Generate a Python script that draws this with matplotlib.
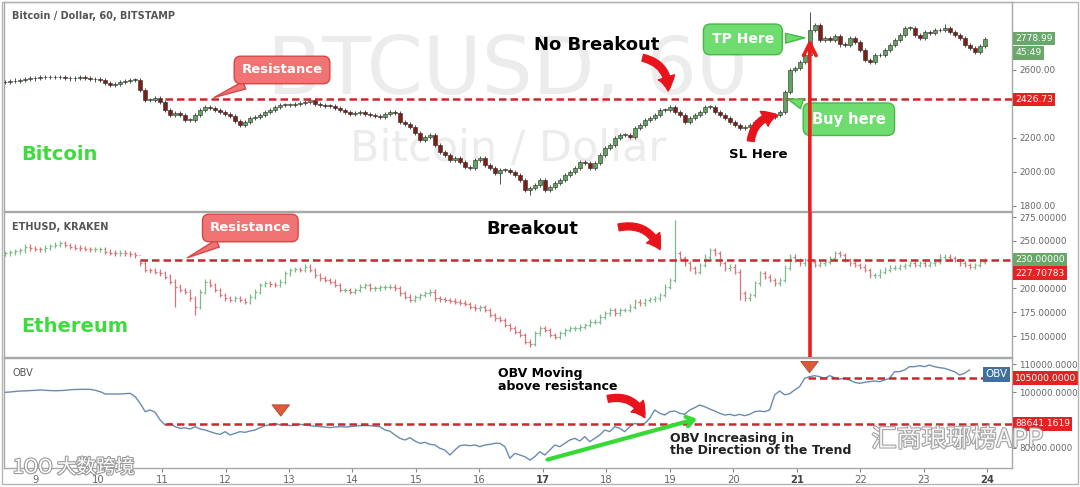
import numpy as np
import matplotlib
matplotlib.use("Agg")
import matplotlib.pyplot as plt
import matplotlib.patheffects as pe
from matplotlib.patches import FancyArrowPatch

btc_close = [2529, 2535, 2538, 2541, 2545, 2550, 2553, 2559, 2556, 2559, 2556, 2559, 2553, 2550,
             2553, 2556, 2553, 2548, 2544, 2541, 2525, 2512, 2518, 2529, 2535, 2541, 2541, 2482,
             2424, 2424, 2435, 2412, 2365, 2335, 2347, 2335, 2306, 2306, 2335, 2365, 2382, 2376,
             2365, 2353, 2341, 2329, 2300, 2276, 2294, 2318, 2324, 2335, 2353, 2365, 2380, 2394,
             2394, 2394, 2400, 2406, 2412, 2424, 2400, 2394, 2390, 2388, 2376, 2365, 2353, 2341,
             2347, 2353, 2341, 2335, 2329, 2324, 2341, 2353, 2347, 2294, 2280, 2265, 2229, 2188,
             2206, 2218, 2159, 2118, 2100, 2071, 2082, 2059, 2029, 2024, 2071, 2082, 2041, 2024,
             1994, 2012, 2012, 2000, 1982, 1953, 1894, 1906, 1924, 1953, 1894, 1912, 1935, 1953,
             1982, 2000, 2024, 2059, 2053, 2024, 2053, 2100, 2141, 2159, 2200, 2218, 2218, 2206,
             2259, 2276, 2306, 2318, 2335, 2365, 2365, 2382, 2353, 2335, 2294, 2318, 2335, 2353,
             2382, 2382, 2353, 2335, 2318, 2294, 2276, 2259, 2265, 2276, 2294, 2306, 2335, 2324,
             2335, 2353, 2470, 2600, 2612, 2647, 2688, 2835, 2865, 2776, 2788, 2776, 2800, 2750,
             2747, 2788, 2765, 2718, 2659, 2647, 2688, 2688, 2718, 2747, 2776, 2806, 2847, 2847,
             2806, 2788, 2824, 2818, 2835, 2835, 2847, 2824, 2806, 2788, 2747, 2730, 2706, 2740,
             2780]
btc_spike_high = {161: 2940, 188: 2870}
btc_spike_low = {105: 1865, 99: 1930}

eth_close = [237, 238, 239, 240, 243.8, 242, 241.5, 241, 243, 244.5, 246, 247.3, 245.6, 243.8,
             243, 242, 241.5, 241, 241, 241, 238.6, 237.5, 237, 237.5, 237, 236, 235, 226.4,
             219.4, 219, 217.6, 215.8, 212.3, 207, 201.8, 198.4, 196.6, 189.6, 180.8, 196.6, 207,
             203.5, 198.4, 193.1, 189.6, 187.9, 189.6, 187.9, 186.1, 191.3, 196.6, 203.5, 205.3,
             204.5, 203.5, 207, 215.8, 219.4, 220, 219.4, 222.8, 219.4, 214, 210.6, 208.8, 207,
             203.5, 198.4, 198.4, 196.6, 198.4, 201.8, 203.5, 200, 200, 201, 201.5, 201.8, 200,
             194.9, 191.3, 187.9, 190.6, 193.1, 194.9, 196.6, 189.6, 188.6, 187.9, 187.2, 186.1,
             185, 183.6, 180.8, 179.1, 180.1, 177.4, 172.1, 168.6, 166.9, 161.6, 158.1, 154.6,
             151.1, 144.1, 142, 152.9, 158.1, 156.3, 151.1, 149.4, 152.9, 156.3, 158.1, 158.1,
             159.8, 161.6, 165.1, 165.1, 170.3, 173.9, 177.4, 173.9, 177.4, 177.4, 180.8, 186.1,
             184.3, 187.9, 188.6, 189.6, 193.1, 201.8, 208.8, 236.9, 231.6, 226.4, 221.1, 217.6,
             224.6, 233.4, 240.3, 236.9, 226.4, 221.1, 222.8, 217.6, 195, 189.6, 193.1, 205.3,
             215.8, 212.3, 208.8, 205.3, 208.8, 222, 233.4, 229.9, 226.4, 229.9, 228.1, 224.6,
             226.4, 228.1, 231.6, 236.9, 235.2, 229.9, 226.4, 224.6, 222.8, 219.4, 214, 214,
             217.6, 219.9, 222, 222, 223.2, 224.6, 226.4, 224.6, 226.4, 224.6, 226.4, 228.1,
             233.4, 233.4, 231.6, 229.9, 226.4, 224.6, 222.8, 224.6, 228.1, 229.9]
eth_spike_high = {134: 272, 27: 230}
eth_spike_low = {105: 138, 38: 172, 147: 188, 34: 180}

obv = [99893, 100000, 100200, 100357, 100400, 100500, 100600, 100714, 100600, 100500, 100450,
       100500, 100600, 100800, 100900, 100952, 100952, 100952, 100600, 100119, 99286, 99286,
       99300, 99286, 99400, 99524, 98333, 95952, 92976, 93571, 92738, 90000, 88214, 88810,
       87619, 87024, 87200, 86786, 87619, 86786, 86429, 85833, 85238, 84880, 85833, 84643,
       85238, 85833, 85600, 86070, 86429, 87260, 87976, 88300, 88800, 88214, 88450, 87976,
       88214, 88450, 88214, 87976, 87800, 87619, 87500, 87260, 87500, 87619, 87500, 87619,
       87800, 87976, 88000, 87976, 87800, 87619, 86429, 86000, 84643, 83452, 82857, 83690,
       82500, 81667, 82020, 81310, 81071, 79881, 79286, 77500, 79286, 80830, 81071, 80830,
       81071, 80476, 81071, 81310, 81667, 81667, 80476, 76310, 78095, 77500, 76900, 75700,
       76900, 78690, 77500, 79286, 81071, 80476, 81667, 82857, 83452, 82500, 84048, 82262,
       83452, 84643, 86429, 85833, 87619, 87024, 85833, 87619, 88810, 88214, 88810, 90595,
       93571, 92381, 91786, 92976, 93214, 92381, 92024, 93571, 94405, 95357, 94762, 93929,
       93214, 92381, 91786, 92024, 91548, 92024, 91548, 92024, 92976, 93214, 92976, 93571,
       98929, 100357, 99000, 99400, 100714, 101905, 104881, 105476, 105833, 105476, 104881,
       105833, 105119, 104643, 104881, 104286, 103452, 103095, 103452, 103690, 103929, 103690,
       104286, 104881, 107262, 107262, 107857, 109048, 109048, 109405, 109048, 109643, 109048,
       108690, 108452, 107857, 107262, 106071, 106667, 107857]

btc_resistance = 2426.73
eth_resistance = 230.0
obv_resistance = 88641.1619
obv_level2 = 105000.0

day_ticks = list(range(9, 25))
bold_days = [17, 21, 24]

# ---- styling ----
UP = "#5fa35f"
DOWN = "#7d1f17"
RED = "#e8141c"
DASH = "#c9282d"
GREEN_BOX = "#6fdc6f"
GREEN_EDGE = "#47b847"
GRID = "#a8a8a8"
LBL = 6.3

fig = plt.figure(figsize=(10.8, 4.87), dpi=100)
fig.patch.set_facecolor("white")

W, H = 1080.0, 487.0
left, width = 4 / W, 1008 / W
ax1 = fig.add_axes([left, 1 - 211 / H, width, 209 / H])
ax2 = fig.add_axes([left, 1 - 357 / H, width, 145 / H])
ax3 = fig.add_axes([left, 1 - 468 / H, width, 110 / H])

xlim = (8.51, 24.39)
for ax in (ax1, ax2, ax3):
    ax.set_xlim(*xlim)
    for s in ax.spines.values():
        s.set_color(GRID)
        s.set_linewidth(1)
    ax.yaxis.tick_right()
    ax.tick_params(axis="y", direction="out", length=3, color="#888888",
                   labelsize=LBL, labelcolor="#666666", pad=2)
    ax.set_facecolor("white")
ax1.tick_params(axis="x", bottom=False, labelbottom=False)
ax2.tick_params(axis="x", bottom=False, labelbottom=False)

ax1.set_ylim(1770, 3000)
ax2.set_ylim(128, 280.3)
ax3.set_ylim(72857, 112143)

# ---- bitcoin candles ----
bx = np.linspace(8.53, 23.96, len(btc_close))
c = np.array(btc_close, dtype=float)
o = np.r_[c[0], c[:-1]]
hi = np.maximum(o, c) + 12
lo = np.minimum(o, c) - 12
for i, v in btc_spike_high.items():
    hi[i] = v
for i, v in btc_spike_low.items():
    lo[i] = v
up = c >= o
cols = np.where(up, UP, DOWN)
ax1.vlines(bx, lo, hi, color="#333333", lw=0.6, zorder=3)
body = np.where(np.abs(c - o) < 3, 3, c - o)
ax1.bar(bx, body, bottom=o, width=0.058, color=cols, edgecolor="#2a2a2a",
        linewidth=0.4, zorder=4)

# ---- ethereum OHLC bars ----
ex = np.linspace(8.53, 23.96, len(eth_close))
ec = np.array(eth_close, dtype=float)
eo = np.r_[ec[0], ec[:-1]]
ehi = np.maximum(eo, ec) + 2.5
elo = np.minimum(eo, ec) - 2.5
for i, v in eth_spike_high.items():
    ehi[i] = v
for i, v in eth_spike_low.items():
    elo[i] = v
ecols = np.where(ec >= eo, "#7fb98f", "#d9757a")
tick = 0.025
ax2.vlines(ex, elo, ehi, color=ecols, lw=0.9, zorder=3)
ax2.hlines(eo, ex - tick, ex, color=ecols, lw=0.9, zorder=3)
ax2.hlines(ec, ex, ex + tick, color=ecols, lw=0.9, zorder=3)

# ---- OBV line ----
ox = np.linspace(8.53, 23.72, len(obv))
ax3.plot(ox, obv, color="#6a8bb0", lw=1.0, zorder=3)

# ---- right axis labels ----
ax1.set_yticks([1800, 2000, 2200, 2600])
ax1.set_yticklabels([f"{v:.2f}" for v in [1800, 2000, 2200, 2600]])
ax2.set_yticks([150, 175, 200, 250, 275])
ax2.set_yticklabels([f"{v:.5f}" for v in [150, 175, 200, 250, 275]])
ax3.set_yticks([80000, 100000, 110000])
ax3.set_yticklabels([f"{v:.4f}" for v in [80000, 100000, 110000]])


def price_tag(ax, y, txt, fc):
    ax.text(1.003, y, txt, transform=ax.get_yaxis_transform(), ha="left", va="center",
            fontsize=LBL + 0.3, color="white", zorder=10, clip_on=False,
            bbox=dict(boxstyle="square,pad=0.25", fc=fc, ec="none"))


price_tag(ax1, 2786, "2778.99", "#6aa86a")
price_tag(ax1, 2700, "45:49", "#6aa86a")
price_tag(ax1, btc_resistance, f"{btc_resistance:.2f}", "#e52222")
price_tag(ax2, eth_resistance, f"{eth_resistance:.5f}", "#6aa86a")
price_tag(ax2, 216.0, "227.70783", "#e52222")
price_tag(ax3, obv_level2, f"{obv_level2:.4f}", "#e52222")
price_tag(ax3, obv_resistance, f"{obv_resistance:.4f}", "#e52222")

# ---- x axis ----
ax3.set_xticks(day_ticks)
ax3.set_xticklabels([str(d) for d in day_ticks])
ax3.tick_params(axis="x", direction="out", length=3, color="#888888",
                labelsize=7.2, labelcolor="#666666", pad=2)
for lab, d in zip(ax3.get_xticklabels(), day_ticks):
    if d in bold_days:
        lab.set_fontweight("bold")
        lab.set_color("#444444")

# ---- watermarks in the price panel ----
ax1.text(16.45, 2590, "BTCUSD, 60", fontsize=58, color="#ececec", ha="center",
         va="center", zorder=0)
ax1.text(16.45, 2135, "Bitcoin / Dollar", fontsize=31, color="#ececec", ha="center",
         va="center", zorder=0)

# ---- titles ----
ax1.text(0.008, 0.935, "Bitcoin / Dollar, 60, BITSTAMP", transform=ax1.transAxes,
         fontsize=7, color="#555555", weight="semibold", va="center")
ax2.text(0.008, 0.9, "ETHUSD, KRAKEN", transform=ax2.transAxes,
         fontsize=7, color="#555555", weight="semibold", va="center")
ax3.text(0.008, 0.86, "OBV", transform=ax3.transAxes,
         fontsize=7, color="#555555", va="center")

ax1.text(8.78, 2100, "Bitcoin", fontsize=14, weight="bold", color="#3ddc3d", va="center")
ax2.text(8.78, 160.5, "Ethereum", fontsize=14, weight="bold", color="#3ddc3d", va="center")

# ---- resistance lines ----
ax1.hlines(btc_resistance, 11.05, xlim[1], colors=DASH, linestyles=(0, (3, 1.6)), lw=1.8, zorder=5)
ax2.hlines(eth_resistance, 10.65, xlim[1], colors=DASH, linestyles=(0, (3, 1.6)), lw=1.8, zorder=5)
ax3.hlines(obv_resistance, 11.05, xlim[1], colors=DASH, linestyles=(0, (3, 1.6)), lw=1.8, zorder=5)
ax3.hlines(obv_level2, 21.17, 23.96, colors=DASH, linestyles=(0, (3, 1.6)), lw=1.8, zorder=5)

# ---- callouts ----
red_bbox = dict(boxstyle="round,pad=0.55,rounding_size=0.5", fc="#f07474", ec="#d94545", lw=1)
green_bbox = dict(boxstyle="round,pad=0.6,rounding_size=0.5", fc=GREEN_BOX, ec=GREEN_EDGE, lw=1)
ax1.annotate("Resistance", xy=(11.78, 2432), xytext=(12.89, 2600), ha="center", va="center",
             fontsize=9.5, weight="bold", color="white", bbox=red_bbox, zorder=8,
             arrowprops=dict(arrowstyle="wedge,tail_width=0.6", fc="#f07474", ec="#d94545", lw=1))
ax2.annotate("Resistance", xy=(11.36, 231), xytext=(12.39, 263.5), ha="center", va="center",
             fontsize=9.5, weight="bold", color="white", bbox=red_bbox, zorder=8,
             arrowprops=dict(arrowstyle="wedge,tail_width=0.6", fc="#f07474", ec="#d94545", lw=1))
ax1.annotate("TP Here", xy=(21.17, 2790), xytext=(20.15, 2780), ha="center", va="center",
             fontsize=10, weight="bold", color="white", bbox=green_bbox, zorder=8,
             arrowprops=dict(arrowstyle="wedge,tail_width=0.7", fc=GREEN_BOX, ec=GREEN_EDGE, lw=1))
ax1.annotate("Buy here", xy=(20.82, 2433), xytext=(21.82, 2310), ha="center", va="center",
             fontsize=10.5, weight="bold", color="white", bbox=green_bbox, zorder=8,
             arrowprops=dict(arrowstyle="wedge,tail_width=0.7", fc=GREEN_BOX, ec=GREEN_EDGE, lw=1))

# ---- labels ----
ax1.text(17.85, 2748, "No Breakout", fontsize=13, weight="bold", ha="center", va="center")
ax2.text(16.83, 262.5, "Breakout", fontsize=13, weight="bold", ha="center", va="center")
ax1.text(20.39, 2100, "SL Here", fontsize=9.5, weight="bold", ha="center", va="center")
ax3.text(16.29, 104300, "OBV Moving\nabove resistance", fontsize=9, weight="bold",
         va="center", linespacing=0.95)
ax3.text(19.0, 81300, "OBV Increasing in\nthe Direction of the Trend", fontsize=9,
         weight="bold", va="center", linespacing=0.95, color="#222222")


def curved(ax, p0, p1, rad):
    ax.add_patch(FancyArrowPatch(p0, p1, connectionstyle=f"arc3,rad={rad}",
                                 arrowstyle="simple,head_width=1.1,head_length=0.9,tail_width=0.45",
                                 mutation_scale=11, color=RED, zorder=9))


curved(ax1, (18.53, 2675), (18.97, 2460), -0.45)
curved(ax2, (18.15, 263.5), (18.86, 238), -0.45)
curved(ax1, (20.27, 2165), (20.74, 2335), -0.45)
curved(ax3, (17.98, 97300), (18.62, 89900), -0.45)

# green trend arrow in OBV
ax3.annotate("", xy=(19.47, 90700), xytext=(17.03, 75600),
             arrowprops=dict(arrowstyle="->,head_length=0.5,head_width=0.35", color="#36d936",
                             lw=3), zorder=9)

# down markers on OBV
for dx, tip in [(12.87, 90400), (21.2, 105900)]:
    ax3.annotate("", xy=(dx, tip), xytext=(dx, tip + 5200),
                 arrowprops=dict(arrowstyle="simple,head_width=1.4,head_length=0.9,tail_width=0.75",
                                 fc="#dc5a3c", ec="#b5432a", lw=0.6, mutation_scale=9), zorder=9)

ax3.text(24.15, 106300, "OBV", fontsize=7.5, color="white", ha="center", va="center",
         zorder=10, bbox=dict(boxstyle="square,pad=0.25", fc="#40709f", ec="none"))

# vertical red line from ethereum panel into the bitcoin panel
vx = 21.205
ax2.axvline(vx, color="#ee1c1c", lw=2.6, zorder=9)
ax1.annotate("", xy=(vx, 2782), xytext=(vx, 0), textcoords=ax1.get_xaxis_transform(),
             arrowprops=dict(arrowstyle="->,head_length=0.9,head_width=0.45", color="#ee1c1c",
                             lw=2.6, shrinkA=0, shrinkB=0), zorder=9)

# ---- source watermarks ----
cjk = ["Noto Sans CJK SC", "DejaVu Sans"]
outline = [pe.withStroke(linewidth=1.6, foreground="#9a9a9a")]
fig.text(0.012, 0.04, "1OO 大数跨境", fontsize=14, color="white", family=cjk,
         va="center", path_effects=outline, zorder=20)
fig.text(0.807, 0.097, "汇商琅琊榜APP", fontsize=18, color="white", family=cjk,
         va="center", path_effects=outline, zorder=20, alpha=0.9)

# outer frame
fig.add_artist(plt.Rectangle((2 / W, 3 / H), 1 - 4 / W, 1 - 5 / H, transform=fig.transFigure,
                             fill=False, ec="#b5b5b5", lw=1))

fig.savefig("out.png", dpi=100)
